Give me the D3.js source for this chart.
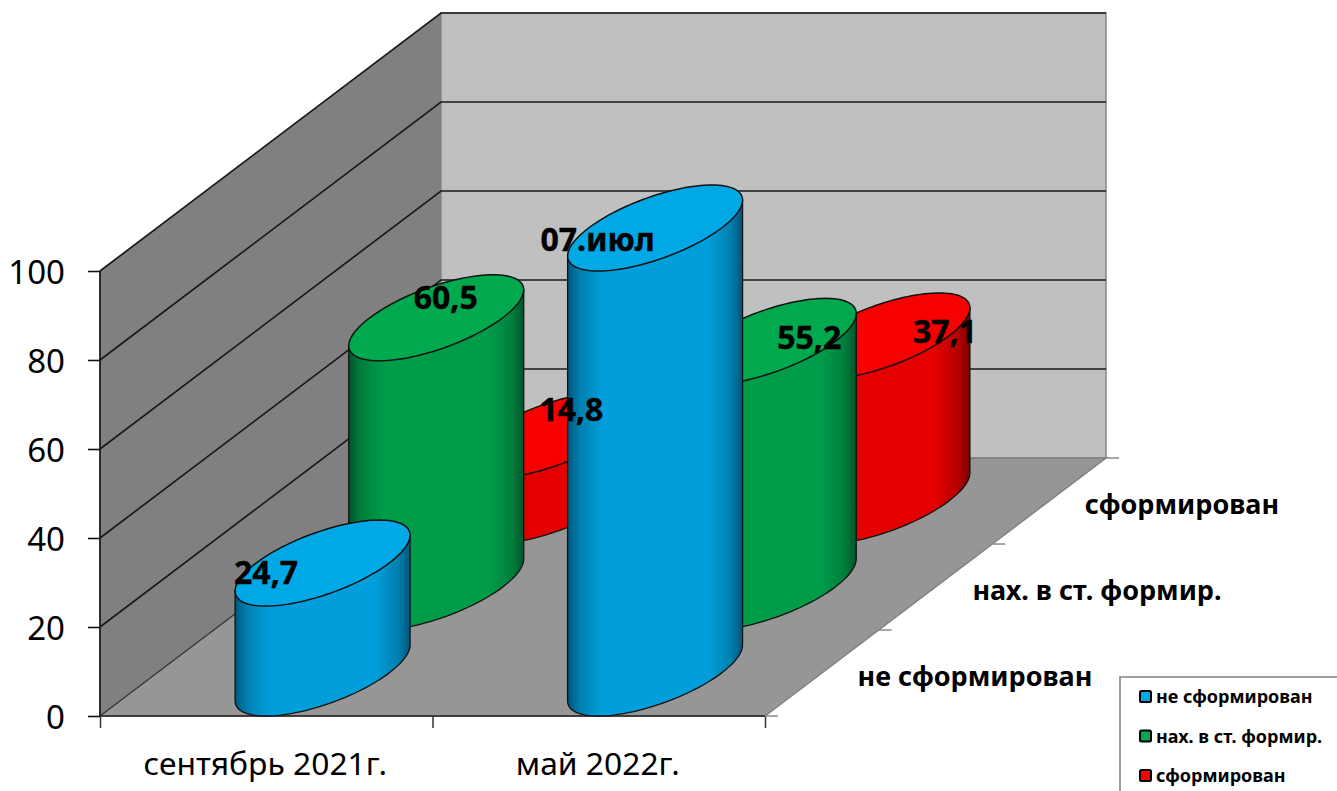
<!DOCTYPE html>
<html lang="ru"><head><meta charset="utf-8">
<style>html,body{margin:0;padding:0;background:#fff;overflow:hidden}svg{display:block}text{font-family:"Noto Sans","Open Sans",sans-serif;fill:#000}</style>
<script src="https://cdn.jsdelivr.net/npm/d3@7"></script></head><body><svg id="c" width="1337" height="791"></svg>
<script>
const categories=["сентябрь 2021г.","май 2022г."];
const seriesNames=["не сформирован","нах. в ст. формир.","сформирован"];
const notFormed=[24.7,100];
const inProgress=[60.5,55.2];
const formed=[14.8,37.1];
const notFormedLabels=["24,7","07.июл"];
const inProgressLabels=["60,5","55,2"];
const formedLabels=["14,8","37,1"];
const yTicks=[0,20,40,60,80,100];
const topColors=["#00a8e6","#00a84e","#f70000"];
const bodyColors=["#009fdb","#009c4a","#e40000"];
const midColors=["#0080b0","#007f3c","#b80000"];
const edgeColors=["#00567c","#00562a","#7a0000"];

const svg=d3.select("#c");
const x0=100,x1=765,y0=716,yTop=271,depthX=341,depthY=258;
const catScale=d3.scaleBand().domain(categories).range([x0,x1]);
const catEdge=d3.scaleLinear().domain([0,categories.length]).range([x0,x1]);
const yScale=d3.scaleLinear().domain([0,100]).range([y0,yTop]);
const depthScale=d3.scaleBand().domain(seriesNames).range([0,1]);
const project=(xPix,d,v)=>[xPix+d*depthX,yScale(v)-d*depthY];
const line=d3.line();

// walls and floor
const poly=(pts,fill,stroke,sw)=>svg.append("path").attr("d",line(pts)+"Z").attr("fill",fill).attr("stroke",stroke||"none").attr("stroke-width",sw||0);
poly([project(x0,0,0),project(x0,0,100),project(x0,1,100),project(x0,1,0)],"#808080","#777",1);
poly([project(x0,1,0),project(x0,1,100),project(x1,1,100),project(x1,1,0)],"#c0c0c0","#858585",1.5);
poly([project(x0,0,0),project(x0,1,0),project(x1,1,0),project(x1,0,0)],"#969696","#808080",1.5);
// gridlines
yTicks.forEach(t=>{
  if(t>0) svg.append("path").attr("d",line([project(x0,0,t),project(x0,1,t),project(x1,1,t)])).attr("fill","none").attr("stroke","#1a1a1a").attr("stroke-width",1.7);
});
svg.append("path").attr("d",line([project(x0,0,0),project(x0,1,0)])).attr("stroke","#333").attr("stroke-width",1.1);

// axes
const yAxis=svg.append("g").attr("transform",`translate(${x0},0)`).call(d3.axisLeft(yScale).tickValues(yTicks).tickSize(12).tickPadding(23));
yAxis.selectAll("text").style("font-size","33px").attr("y",2);
yAxis.selectAll("line,path").attr("stroke","#111").attr("stroke-width",1.6);
yAxis.select(".domain").attr("d",`M0,${yTop}V${y0}`);
const xAxis=svg.append("g").attr("transform",`translate(0,${y0})`).call(d3.axisBottom(catEdge).tickValues(d3.range(categories.length+1)).tickSize(12).tickFormat(""));
xAxis.selectAll("line,path").attr("stroke","#333").attr("stroke-width",1.5);
xAxis.select(".domain").attr("d",`M${x0},0H${x1}`).attr("stroke","#222");
const xLabels=svg.append("g").attr("transform",`translate(-1,${y0})`).call(d3.axisBottom(catScale).tickSize(0).tickPadding(36));
xLabels.select(".domain").remove();
xLabels.selectAll("text").style("font-size","31.8px");
// depth axis ticks
[0,1/3,2/3,1].forEach(d=>{const p=project(x1,d,0);
  svg.append("line").attr("x1",p[0]).attr("x2",p[0]+13).attr("y1",p[1]).attr("y2",p[1]).attr("stroke","#8a8a8a").attr("stroke-width",1.5);});
const depthLabelX=[975,1097,1182];
seriesNames.forEach((s,i)=>{const d=depthScale(s)+depthScale.bandwidth()/2;const p=project(x1,d,0);
  svg.append("text").attr("x",depthLabelX[i]).attr("y",p[1]+13).attr("text-anchor","middle").attr("font-weight",700).style("font-size","27px").text(s);});

// cylinders
const defs=svg.append("defs");
seriesNames.forEach((s,i)=>{
  const g=defs.append("linearGradient").attr("id","g"+i).attr("x1",0).attr("x2",1).attr("y1",0).attr("y2",0);
  [[0,edgeColors[i]],[.07,midColors[i]],[.2,bodyColors[i]],[.8,bodyColors[i]],[.93,midColors[i]],[1,edgeColors[i]]].forEach(([o,c])=>g.append("stop").attr("offset",o).attr("stop-color",c));
});
const seriesValues=[notFormed,inProgress,formed];
const seriesLabels=[notFormedLabels,inProgressLabels,formedLabels];
const A=.2*catScale.bandwidth(), rDepth=depthScale.bandwidth()/2;
const Bx=rDepth*depthX, Cy=rDepth*depthY;
const t0=Math.atan2(Bx,A);
const ep=(c,t)=>[c[0]+A*Math.cos(t)+Bx*Math.sin(t),c[1]-Cy*Math.sin(t)];
const arc=(c,a,b,n=60)=>d3.range(n+1).map(k=>ep(c,a+(b-a)*k/n));
const cyl=[];
seriesNames.forEach((s,si)=>categories.forEach((cat,ci)=>cyl.push({si,ci,v:seriesValues[si][ci],label:seriesLabels[si][ci]})));
// back-to-front: deepest series first
cyl.sort((a,b)=>b.si-a.si||a.ci-b.ci).forEach(c=>{
  const cx=catScale(categories[c.ci])+catScale.bandwidth()/2-.5;
  const d=depthScale(seriesNames[c.si])+depthScale.bandwidth()/2;
  const base=project(cx,d,0), top=project(cx,d,c.v);
  const bottom=arc(base,t0,t0-Math.PI);
  const pts=[ep(top,t0),...bottom,ep(top,t0-Math.PI)];
  svg.append("path").attr("d",line(pts)+"Z").attr("fill",`url(#g${c.si})`).attr("stroke","#111").attr("stroke-width",1.3);
  svg.append("path").attr("d",line(arc(top,0,2*Math.PI,120))+"Z").attr("fill",topColors[c.si]).attr("stroke","#111").attr("stroke-width",1.5);
});
// data labels
const labelDx=[-57,9,21], labelDy=[10,-20,-25];
const labelAdj={ "0-1":[-58,12],"1-1":[40,-3],"2-1":[62,-4] };
cyl.forEach(c=>{
  const cx=catScale(categories[c.ci])+catScale.bandwidth()/2;
  const d=depthScale(seriesNames[c.si])+depthScale.bandwidth()/2;
  const top=project(cx,d,c.v);
  const off=labelAdj[c.si+"-"+c.ci]||[labelDx[c.si],labelDy[c.si]];
  svg.append("text").attr("x",top[0]+off[0]).attr("y",top[1]+off[1]+11).attr("text-anchor","middle").attr("font-weight",700).attr("stroke","#000").attr("stroke-width",.4).style("font-size","32px").text(c.label);
});
// legend
const lg=svg.append("g");
lg.append("rect").attr("x",1120).attr("y",677).attr("width",260).attr("height",150).attr("fill","#fff").attr("stroke","#808080").attr("stroke-width",1.5);
seriesNames.forEach((s,i)=>{
  const y=697+i*39.5;
  lg.append("rect").attr("x",1140).attr("y",y-6).attr("width",11).attr("height",11).attr("rx",1.5).attr("fill",topColors[i]).attr("stroke","#000").attr("stroke-width",2);
  lg.append("text").attr("x",1156).attr("y",y+6).attr("font-weight",700).style("font-size","18px").text(s);
});
</script></body></html>
